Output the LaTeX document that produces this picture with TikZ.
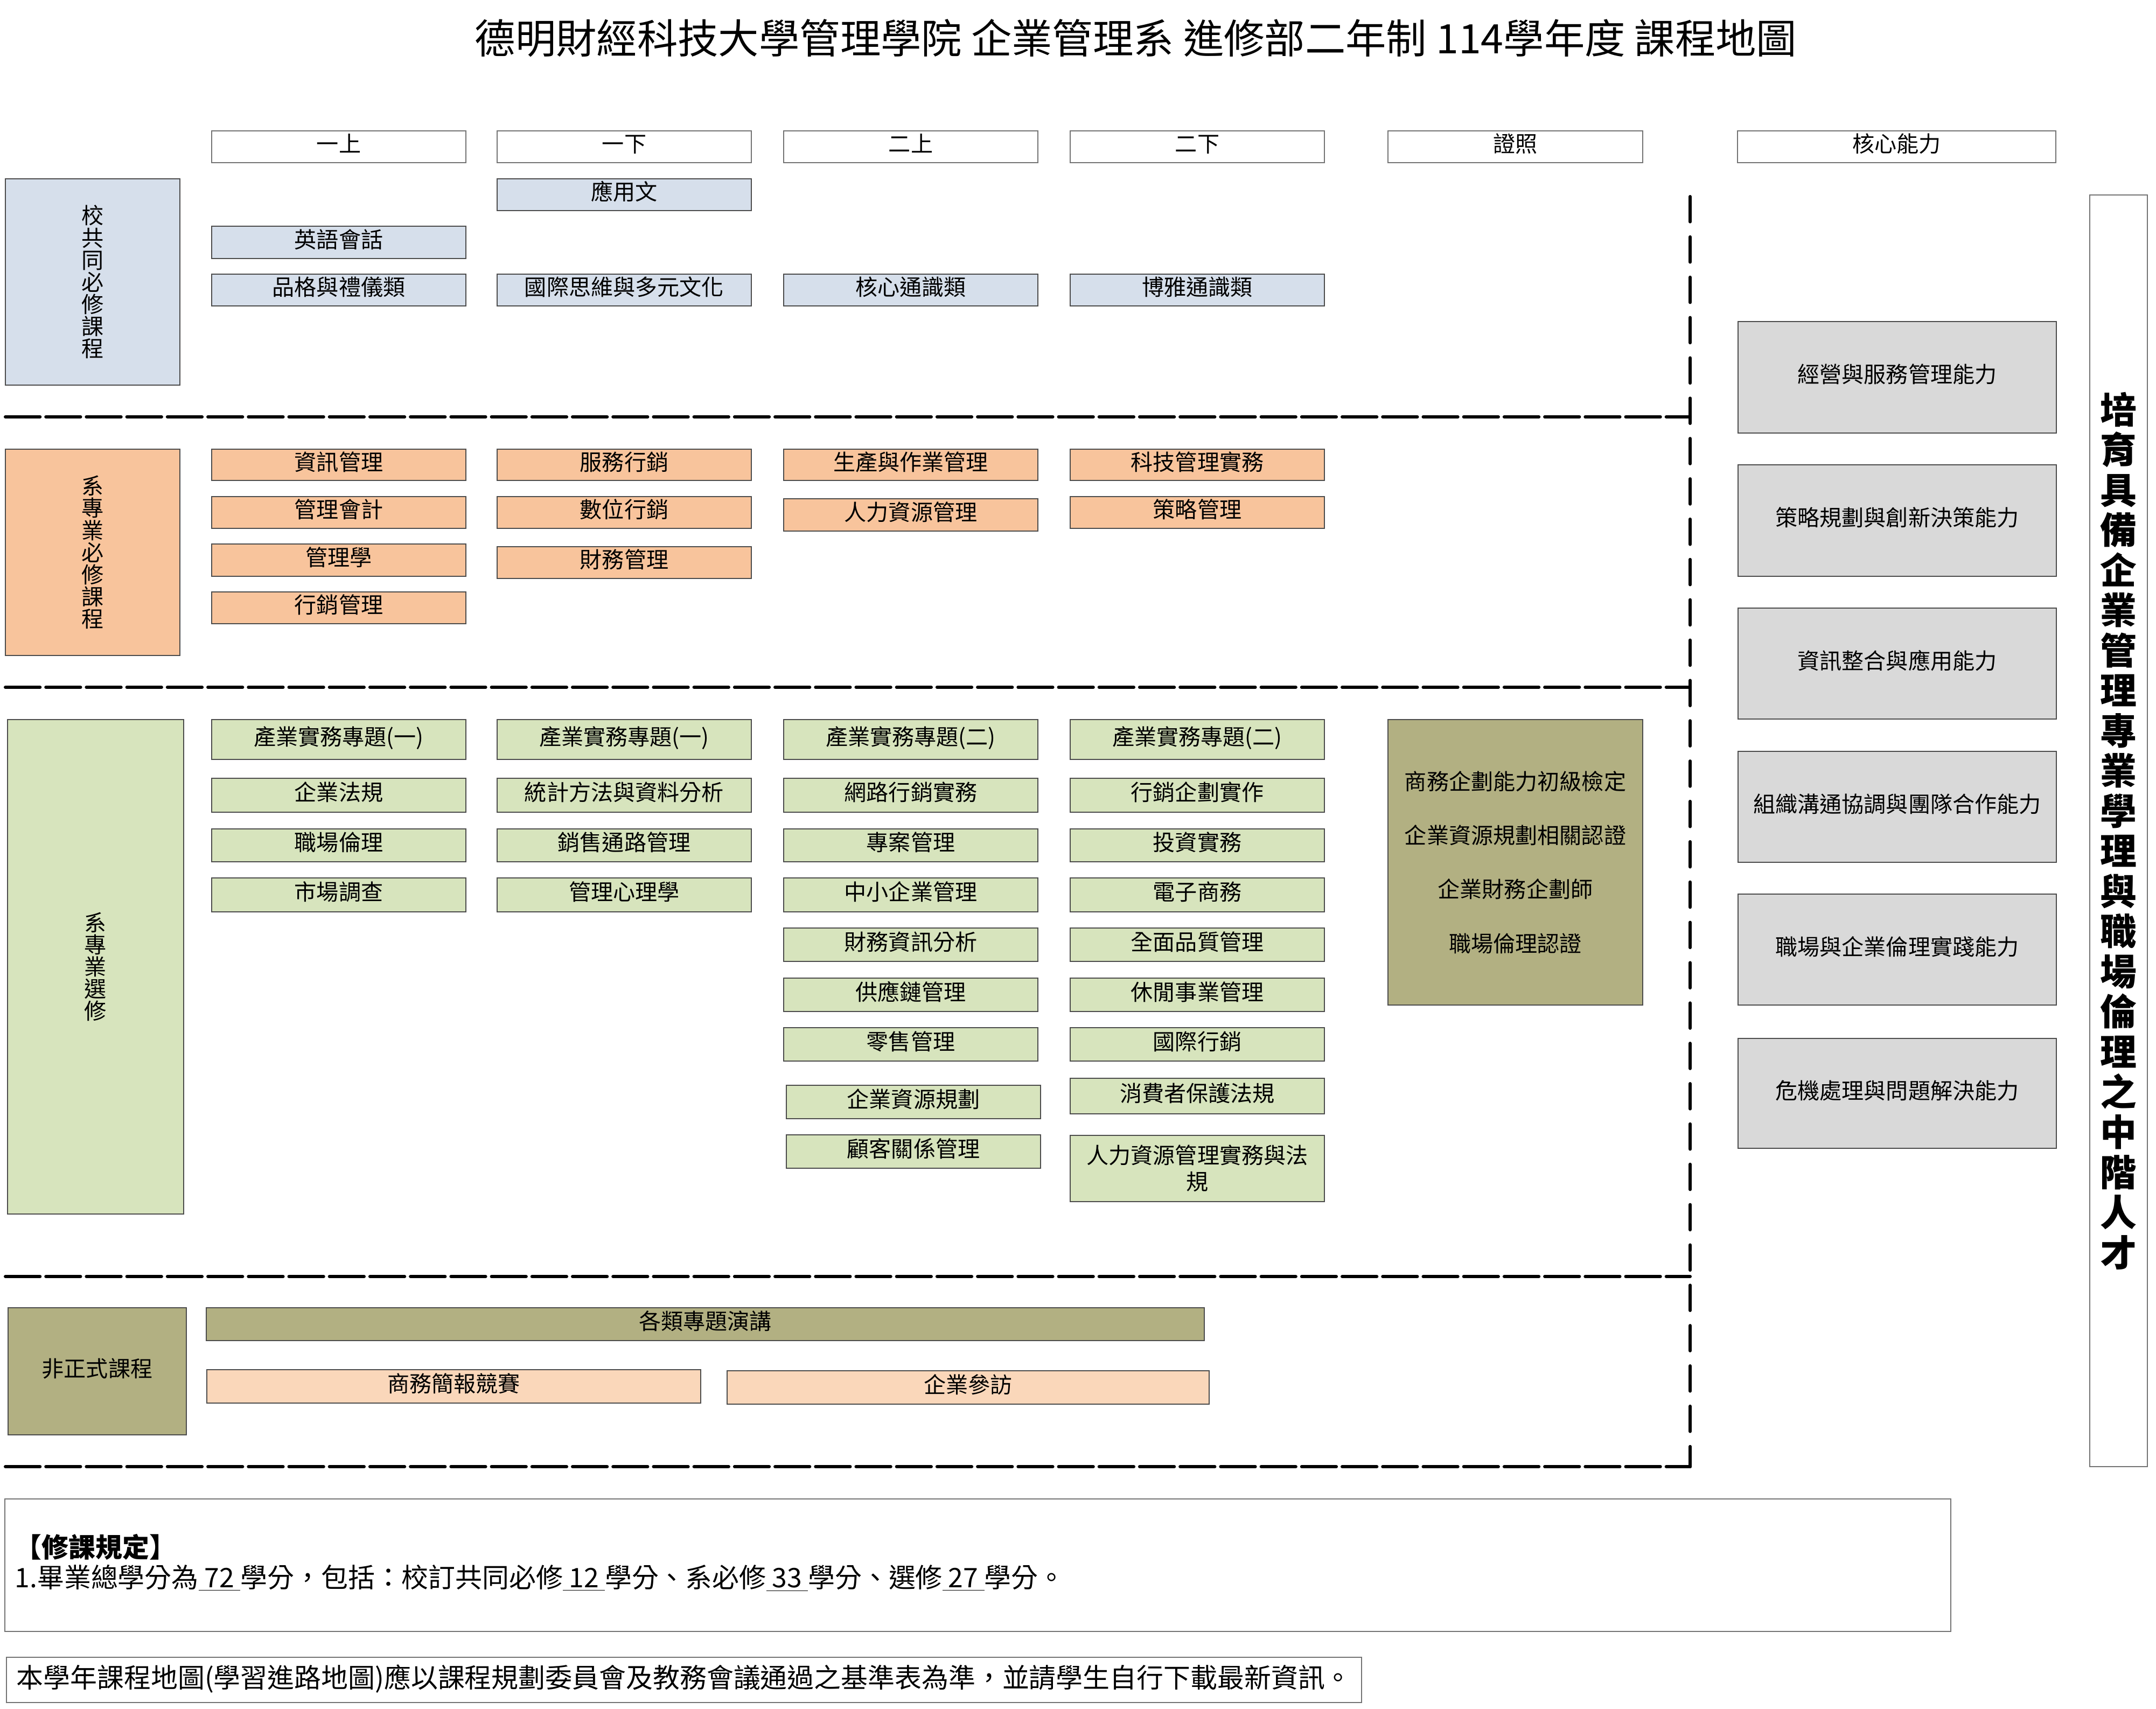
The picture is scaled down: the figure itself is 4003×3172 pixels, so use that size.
\documentclass[tikz,border=0pt]{standalone}
\usepackage{fontspec}
\setmainfont{Noto Sans CJK TC}
\definecolor{cBlue}{HTML}{D6DFEB}
\definecolor{cOrange}{HTML}{F8C49C}
\definecolor{cGreen}{HTML}{D7E4BD}
\definecolor{cOlive}{HTML}{B2B082}
\definecolor{cPeach}{HTML}{FAD7BA}
\definecolor{cGray}{HTML}{D9D9D9}
\newcommand\crsbox[7]{%
  \node[#6, minimum width={(#4-#2)*0.1mm}, minimum height={(#5-#3)*0.1mm}] (#1) at ({(#2+#4)/2},{(#3+#5)/2}) {#7};}
\begin{document}
\begin{tikzpicture}[x=0.1mm,y=-0.1mm,
  bx/.style={draw=black!70, line width=0.55pt, inner sep=0pt, align=center, font=\fontsize{11.7}{11.7}\selectfont, text height=0.8em, text depth=0.22em},
  ml/.style={text height=, text depth=},
  hd/.style={bx, fill=white, draw=black!55},
  blu/.style={bx, fill=cBlue},
  org/.style={bx, fill=cOrange},
  grn/.style={bx, fill=cGreen},
  olv/.style={bx, fill=cOlive},
  pch/.style={bx, fill=cPeach},
  gry/.style={bx, fill=cGray},
  certtxt/.style={bx, ml, fill=cOlive, font=\fontsize{11.7}{28.5}\selectfont},
  twoline/.style={grn, ml, font=\fontsize{11.7}{14}\selectfont},
  talltxt/.style={bx, ml, fill=white, draw=black!55, font=\fontsize{19.3}{21.2}\selectfont\bfseries},
  hdash/.style={line width=1.7pt, line cap=round, dash pattern=on 18.3pt off 3.1pt},
  vdash/.style={line width=1.7pt, line cap=round, dash pattern=on 13.3pt off 8pt}]
\useasboundingbox (0,0) rectangle (4003,3172);

% title
\node[font=\fontsize{21.45}{21.45}\selectfont, inner sep=0pt] (title) at (2109,71) {德明財經科技大學管理學院 企業管理系 進修部二年制 114學年度 課程地圖};

% headers
\crsbox{h1}{393}{243}{865}{302}{hd}{一上}
\crsbox{h2}{923}{243}{1395}{302}{hd}{一下}
\crsbox{h3}{1455}{243}{1927}{302}{hd}{二上}
\crsbox{h4}{1987}{243}{2459}{302}{hd}{二下}
\crsbox{hc}{2577}{243}{3050}{302}{hd}{證照}
\crsbox{hk}{3226}{243}{3817}{302}{hd}{核心能力}

% group 1
\crsbox{g1}{10}{332}{334}{715}{blu,ml}{校\\共\\同\\必\\修\\課\\程}
\crsbox{a1}{923}{332}{1395}{391}{blu}{應用文}
\crsbox{a2}{393}{420}{865}{480}{blu}{英語會話}
\crsbox{a3}{393}{509}{865}{568}{blu}{品格與禮儀類}
\crsbox{a4}{923}{509}{1395}{568}{blu}{國際思維與多元文化}
\crsbox{a5}{1455}{509}{1927}{568}{blu}{核心通識類}
\crsbox{a6}{1987}{509}{2459}{568}{blu}{博雅通識類}

% group 2
\crsbox{g2}{10}{834}{334}{1217}{org,ml}{系\\專\\業\\必\\修\\課\\程}
\crsbox{b1}{393}{834}{865}{892}{org}{資訊管理}
\crsbox{b2}{393}{922}{865}{981}{org}{管理會計}
\crsbox{b3}{393}{1010}{865}{1070}{org}{管理學}
\crsbox{b4}{393}{1099}{865}{1158}{org}{行銷管理}
\crsbox{b5}{923}{834}{1395}{892}{org}{服務行銷}
\crsbox{b6}{923}{922}{1395}{981}{org}{數位行銷}
\crsbox{b7}{923}{1015}{1395}{1074}{org}{財務管理}
\crsbox{b8}{1455}{834}{1927}{892}{org}{生產與作業管理}
\crsbox{b9}{1455}{926}{1927}{986}{org}{人力資源管理}
\crsbox{b10}{1987}{834}{2459}{892}{org}{科技管理實務}
\crsbox{b11}{1987}{922}{2459}{981}{org}{策略管理}

% group 3
\crsbox{g3}{14}{1336}{341}{2254}{grn,ml}{系\\專\\業\\選\\修}
\crsbox{c11}{393}{1336}{865}{1410}{grn}{產業實務專題(一)}
\crsbox{c12}{393}{1445}{865}{1508}{grn}{企業法規}
\crsbox{c13}{393}{1539}{865}{1600}{grn}{職場倫理}
\crsbox{c14}{393}{1630}{865}{1693}{grn}{市場調查}
\crsbox{c21}{923}{1336}{1395}{1410}{grn}{產業實務專題(一)}
\crsbox{c22}{923}{1445}{1395}{1508}{grn}{統計方法與資料分析}
\crsbox{c23}{923}{1539}{1395}{1600}{grn}{銷售通路管理}
\crsbox{c24}{923}{1630}{1395}{1693}{grn}{管理心理學}
\crsbox{c31}{1455}{1336}{1927}{1410}{grn}{產業實務專題(二)}
\crsbox{c32}{1455}{1445}{1927}{1508}{grn}{網路行銷實務}
\crsbox{c33}{1455}{1539}{1927}{1600}{grn}{專案管理}
\crsbox{c34}{1455}{1630}{1927}{1693}{grn}{中小企業管理}
\crsbox{c35}{1455}{1723}{1927}{1785}{grn}{財務資訊分析}
\crsbox{c36}{1455}{1816}{1927}{1878}{grn}{供應鏈管理}
\crsbox{c37}{1455}{1908}{1927}{1970}{grn}{零售管理}
\crsbox{c38}{1460}{2015}{1932}{2077}{grn}{企業資源規劃}
\crsbox{c39}{1460}{2107}{1932}{2169}{grn}{顧客關係管理}
\crsbox{c41}{1987}{1336}{2459}{1410}{grn}{產業實務專題(二)}
\crsbox{c42}{1987}{1445}{2459}{1508}{grn}{行銷企劃實作}
\crsbox{c43}{1987}{1539}{2459}{1600}{grn}{投資實務}
\crsbox{c44}{1987}{1630}{2459}{1693}{grn}{電子商務}
\crsbox{c45}{1987}{1723}{2459}{1785}{grn}{全面品質管理}
\crsbox{c46}{1987}{1816}{2459}{1878}{grn}{休閒事業管理}
\crsbox{c47}{1987}{1908}{2459}{1970}{grn}{國際行銷}
\crsbox{c48}{1987}{2002}{2459}{2068}{grn}{消費者保護法規}
\crsbox{c49}{1987}{2108}{2459}{2231}{twoline}{人力資源管理實務與法\\規}
\crsbox{cert}{2577}{1336}{3050}{1866}{certtxt}{商務企劃能力初級檢定\\企業資源規劃相關認證\\企業財務企劃師\\職場倫理認證}

% group 4
\crsbox{g4}{15}{2428}{346}{2664}{olv}{非正式課程}
\crsbox{d1}{383}{2428}{2236}{2489}{olv}{各類專題演講}
\crsbox{d2}{384}{2543}{1301}{2605}{pch}{商務簡報競賽}
\crsbox{d3}{1350}{2545}{2245}{2607}{pch}{企業參訪}

% core abilities
\crsbox{k1}{3227}{597}{3818}{804}{gry}{經營與服務管理能力}
\crsbox{k2}{3227}{863}{3818}{1070}{gry}{策略規劃與創新決策能力}
\crsbox{k3}{3227}{1129}{3818}{1335}{gry}{資訊整合與應用能力}
\crsbox{k4}{3227}{1395}{3818}{1601}{gry}{組織溝通協調與團隊合作能力}
\crsbox{k5}{3227}{1660}{3818}{1866}{gry}{職場與企業倫理實踐能力}
\crsbox{k6}{3227}{1928}{3818}{2132}{gry}{危機處理與問題解決能力}

% tall goal box
\crsbox{goal}{3880}{362}{3987}{2723}{talltxt}{培\\育\\具\\備\\企\\業\\管\\理\\專\\業\\學\\理\\與\\職\\場\\倫\\理\\之\\中\\階\\人\\才}

% dashed separators
\coordinate (vtop) at (3138,365);
\coordinate (vbot) at (3138,2723);
\coordinate (l1a) at (10,774);  \coordinate (l1b) at (3138,774);
\coordinate (l2a) at (10,1276); \coordinate (l2b) at (3138,1276);
\coordinate (l3a) at (10,2370); \coordinate (l3b) at (3138,2370);
\coordinate (l4a) at (10,2723); \coordinate (l4b) at (3138,2723);
\draw[vdash] (vtop) -- (vbot);
\draw[hdash] (l1a) -- (l1b);
\draw[hdash] (l2a) -- (l2b);
\draw[hdash] (l3a) -- (l3b);
\draw[hdash] (l4a) -- (l4b);

% rules box
\crsbox{rb}{9}{2783}{3622}{3029}{hd}{}
\node[anchor=west, inner sep=0pt, align=left, font=\fontsize{14.2}{15.9}\selectfont] (rbt) at (27,2902)
  {{\bfseries 【修課規定】}\\1.畢業總學分為\underline{ 72 }學分，包括：校訂共同必修\underline{ 12 }學分、系必修\underline{ 33 }學分、選修\underline{ 27 }學分。};

% note box
\crsbox{nb}{12}{3077}{2528}{3161}{hd}{}
\node[anchor=west, inner sep=0pt, font=\fontsize{14.2}{15.9}\selectfont] (nbt) at (30,3117)
  {本學年課程地圖(學習進路地圖)應以課程規劃委員會及教務會議通過之基準表為準，並請學生自行下載最新資訊。};
\end{tikzpicture}
\end{document}
